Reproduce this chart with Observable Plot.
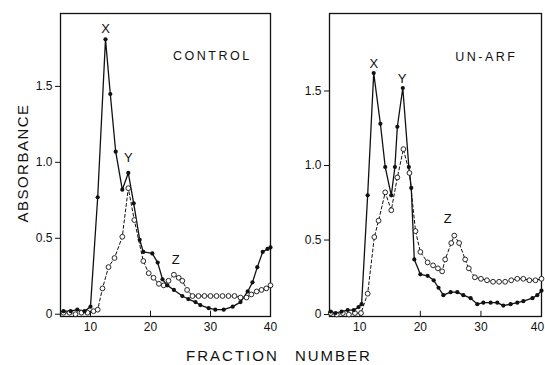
<!DOCTYPE html>
<html><head><meta charset="utf-8">
<script src="https://cdn.jsdelivr.net/npm/d3@7"></script>
<script src="https://cdn.jsdelivr.net/npm/@observablehq/plot@0.6"></script>
<style>
body{margin:0;background:#fff;}
#wrap{position:relative;width:545px;height:365px;font-family:"Liberation Sans",Arial,sans-serif;color:#111;}
.p{position:absolute;top:0;}
#ylab{position:absolute;left:22px;top:163px;transform:translate(-50%,-50%) rotate(-90deg);font-size:15px;letter-spacing:1.5px;white-space:nowrap;}
#xlab{position:absolute;left:279px;top:355px;transform:translate(-50%,-50%);font-size:15px;letter-spacing:2px;word-spacing:10px;white-space:nowrap;}
</style>
</head><body>
<div id="wrap">
<div id="left" class="p" style="left:0px"></div>
<div id="right" class="p" style="left:270px"></div>
<div id="ylab">ABSORBANCE</div>
<div id="xlab">FRACTION NUMBER</div>
</div>
<script>
// CONTROL, solid line, filled circles
const controlSolidFraction = [5.5,6.7,7.8,9,10,11.2,12.5,13.3,14.2,15.3,16.3,17.2,18.2,18.8,20.3,21.2,22,22.8,23.9,25.3,26.3,27.5,28.3,29.7,30.8,32.2,33.7,35,36.2,37,37.8,38.7,39.5,40];
const controlSolidValue    = [0.02,0.02,0.03,0.02,0.05,0.77,1.81,1.45,1.07,0.82,0.93,0.73,0.49,0.41,0.40,0.34,0.23,0.19,0.16,0.12,0.10,0.08,0.06,0.04,0.03,0.03,0.05,0.08,0.15,0.21,0.31,0.41,0.43,0.44];
// CONTROL, dashed line, open circles
const controlDashFraction = [5.5,6.5,7.5,8.5,9.5,10.5,11.2,12,13,14,15.3,16.3,17.3,18.8,19.7,20.5,21.4,22.2,23,23.9,24.7,25.3,26.1,27,28,29,30,31,32,33,34,35,36,36.8,37.7,38.5,39.3,40];
const controlDashValue    = [0.01,0.01,0.00,0.01,0.01,0.02,0.03,0.17,0.31,0.37,0.51,0.83,0.62,0.35,0.27,0.24,0.20,0.19,0.22,0.26,0.24,0.22,0.16,0.12,0.12,0.12,0.12,0.12,0.12,0.12,0.12,0.11,0.11,0.13,0.15,0.16,0.17,0.19];
// UN-ARF, solid line, filled circles
const unarfSolidFraction = [5.2,6,7,8,9,9.8,10.3,11.3,12.3,13.4,14.2,15.2,15.8,16.2,17.1,18.1,18.5,19,20,21.2,22.2,23,23.8,25,26.1,27.1,28.3,29.4,30.4,31.6,32.7,33.7,34.9,36,37,38.5,39.3,40];
const unarfSolidValue    = [0.02,0.01,0.02,0.03,0.03,0.05,0.07,0.80,1.62,1.28,0.99,0.80,0.99,1.26,1.52,0.99,0.85,0.37,0.27,0.26,0.23,0.18,0.13,0.15,0.15,0.13,0.11,0.07,0.08,0.08,0.08,0.06,0.07,0.08,0.09,0.11,0.13,0.16];
// UN-ARF, dashed line, open circles
const unarfDashFraction = [5.2,6.2,7.2,8.2,9.2,10.2,11.3,12.4,13.1,14.2,15.2,16.2,17.2,18.2,19.2,20,21.2,22.1,22.9,23.6,24.1,25.1,25.6,26.4,27.4,28,29,30,31,32,33,34,35,36,37,38,39,40];
const unarfDashValue    = [0.01,0.00,0.01,0.00,0.01,0.01,0.14,0.52,0.63,0.82,0.70,0.92,1.11,0.95,0.56,0.42,0.35,0.33,0.31,0.29,0.37,0.48,0.53,0.48,0.37,0.31,0.25,0.24,0.23,0.22,0.22,0.22,0.23,0.24,0.24,0.23,0.23,0.24];
// peak labels
const controlPeakText = ["X","Y","Z"];
const controlPeakFraction = [12.5,16.3,24.2];
const controlPeakValue = [1.88,1.03,0.36];
const unarfPeakText = ["X","Y","Z"];
const unarfPeakFraction = [12.3,17.0,24.5];
const unarfPeakValue = [1.68,1.58,0.64];
const xTicks = [10,20,30,40];
const yTicks = [0,0.5,1,1.5];

const zip = (f, v) => f.map((d,i) => ({f:d, v:v[i]}));
const labs = (t,f,v) => t.map((d,i) => ({t:d, f:f[i], v:v[i]}));
const font = '"Liberation Sans", Arial, sans-serif';

function panel(solid, dashed, peaks, title, titlePos, width, mL, mR, ydom, lastDx) {
  const svg = Plot.plot({
    width, height: 340, marginLeft: mL, marginRight: mR, marginTop: 13, marginBottom: 24,
    x: {domain: [5, 40]}, y: {domain: ydom},
    style: {fontFamily: font, fontSize: "11px", color: "#111", background: "transparent"},
    marks: [
      Plot.frame({stroke: "#111", strokeWidth: 1.3}),
      Plot.axisY(yTicks, {tickSize: 5, tickPadding: 3, label: null, fontSize: 12,
        tickFormat: d => d === 0 ? "0" : d.toFixed(1)}),
      Plot.axisX(xTicks.slice(0, -1), {tickSize: 0, tickPadding: 6, label: null, fontSize: 12}),
      Plot.axisX(xTicks.slice(-1), {tickSize: 0, tickPadding: 6, label: null, fontSize: 12, dx: lastDx}),
      Plot.ruleX(xTicks.slice(0, -1), {y1: ydom[0], y2: ydom[0] + 0.035, stroke: "#111"}),
      Plot.line(dashed, {x: "f", y: "v", stroke: "#111", strokeWidth: 1, strokeDasharray: "3,2.5"}),
      Plot.line(solid, {x: "f", y: "v", stroke: "#111", strokeWidth: 1.3}),
      Plot.dot(dashed, {x: "f", y: "v", r: 2.4, fill: "white", stroke: "#111", strokeWidth: 0.9}),
      Plot.dot(solid, {x: "f", y: "v", r: 2.1, fill: "#111", stroke: "none"}),
      Plot.text(peaks, {x: "f", y: "v", text: "t", fontSize: 13, fill: "#111"}),
      Plot.text([title], {x: titlePos[0], y: titlePos[1], text: d => d, fontSize: 12.5, fill: "#111"})
    ]
  });
  d3.select(svg).selectAll("text").filter(function(){ return this.textContent === title; })
    .attr("letter-spacing", "2.5px");
  return svg;
}

document.getElementById("left").append(panel(
  zip(controlSolidFraction, controlSolidValue), zip(controlDashFraction, controlDashValue),
  labs(controlPeakText, controlPeakFraction, controlPeakValue), "CONTROL", [30.3, 1.70],
  280, 60, 10, [-0.015, 1.98], 0));
document.getElementById("right").append(panel(
  zip(unarfSolidFraction, unarfSolidValue), zip(unarfDashFraction, unarfDashValue),
  labs(unarfPeakText, unarfPeakFraction, unarfPeakValue), "UN-ARF", [30.9, 1.73],
  275, 59, 4, [-0.013, 2.02], -4));
</script>
</body></html>
